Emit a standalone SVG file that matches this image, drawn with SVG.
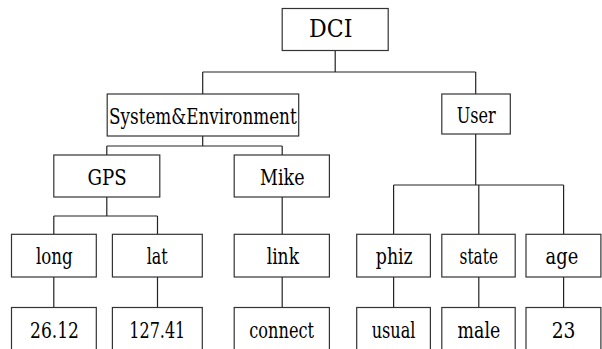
<svg xmlns="http://www.w3.org/2000/svg" width="602" height="349" viewBox="0 0 602 349">
<style>
.box{fill:#fff;stroke:#333;stroke-width:1.2}
.ln{fill:none;stroke:#222;stroke-width:1.2}
text{font-family:'DejaVu Serif','Liberation Serif',serif;font-size:23px;fill:#000}
text.big{font-size:25px}
</style>
<rect width="602" height="349" fill="#fff"/>
<g id="connectors" class="ln">
<path d="M335.2 50.5V72M202.7 72H475.7M202.7 72V94M475.7 72V94"/>
<path d="M202.7 136V146M106.8 146H282.2M106.8 146V155M282.2 146V155"/>
<path d="M475.7 134V185M393.6 185H563.6M393.6 185V234M478.8 185V234M563.6 185V234"/>
<path d="M106.8 197V216M53.8 216H157.5M53.8 216V234M157.5 216V234"/>
<path d="M282.2 197V234"/>
<path d="M53.8 277V307.5M157.5 277V307.5M282.2 277V307.5M393.6 277V307.5M478.8 277V307.5M563.6 277V307.5"/>
</g>
<g id="n-dci"><rect class="box" x="282.2" y="8.5" width="106" height="42"/><text class="big" x="309" y="37.3" textLength="43.4" lengthAdjust="spacingAndGlyphs">DCI</text></g>
<g id="n-sysenv"><rect class="box" x="107.2" y="94" width="191.5" height="42"/><text x="109" y="124.3" textLength="187.7" lengthAdjust="spacingAndGlyphs">System&amp;Environment</text></g>
<g id="n-user"><rect class="box" x="441.8" y="94" width="68.5" height="40"/><text x="456.7" y="123" textLength="39" lengthAdjust="spacingAndGlyphs">User</text></g>
<g id="n-gps"><rect class="box" x="53.8" y="155" width="106" height="42"/><text x="87.5" y="184.5" textLength="39.2" lengthAdjust="spacingAndGlyphs">GPS</text></g>
<g id="n-mike"><rect class="box" x="234.2" y="155" width="95.2" height="42"/><text x="260" y="184.5" textLength="44.5" lengthAdjust="spacingAndGlyphs">Mike</text></g>
<g id="n-long"><rect class="box" x="11.5" y="234.3" width="84.8" height="42.7"/><text x="36" y="264" textLength="36.7" lengthAdjust="spacingAndGlyphs">long</text></g>
<g id="n-lat"><rect class="box" x="112.4" y="234.3" width="89.9" height="42.7"/><text x="146.7" y="264" textLength="21" lengthAdjust="spacingAndGlyphs">lat</text></g>
<g id="n-link"><rect class="box" x="234.2" y="234.3" width="95.2" height="42.7"/><text x="266.7" y="264" textLength="32.3" lengthAdjust="spacingAndGlyphs">link</text></g>
<g id="n-phiz"><rect class="box" x="356.7" y="234.3" width="73.7" height="42.7"/><text x="375.8" y="264" textLength="36.9" lengthAdjust="spacingAndGlyphs">phiz</text></g>
<g id="n-state"><rect class="box" x="441.8" y="234.3" width="73.4" height="42.7"/><text x="459.6" y="264" textLength="38.4" lengthAdjust="spacingAndGlyphs">state</text></g>
<g id="n-age"><rect class="box" x="526" y="234.3" width="74.9" height="42.7"/><text x="545.6" y="264" textLength="32.6" lengthAdjust="spacingAndGlyphs">age</text></g>
<g id="n-v1"><rect class="box" x="11.5" y="307.5" width="84.8" height="45"/><text x="30" y="338" textLength="49" lengthAdjust="spacingAndGlyphs">26.12</text></g>
<g id="n-v2"><rect class="box" x="112.4" y="307.5" width="89.9" height="45"/><text x="129.3" y="338" textLength="56" lengthAdjust="spacingAndGlyphs">127.41</text></g>
<g id="n-v3"><rect class="box" x="234.2" y="307.5" width="95.2" height="45"/><text x="249.3" y="338" textLength="64.7" lengthAdjust="spacingAndGlyphs">connect</text></g>
<g id="n-v4"><rect class="box" x="356.7" y="307.5" width="73.7" height="45"/><text x="371.7" y="338" textLength="43.8" lengthAdjust="spacingAndGlyphs">usual</text></g>
<g id="n-v5"><rect class="box" x="441.8" y="307.5" width="73.4" height="45"/><text x="457.6" y="338" textLength="42.6" lengthAdjust="spacingAndGlyphs">male</text></g>
<g id="n-v6"><rect class="box" x="526" y="307.5" width="74.9" height="45"/><text x="551.7" y="338" textLength="23.8" lengthAdjust="spacingAndGlyphs">23</text></g>
</svg>
